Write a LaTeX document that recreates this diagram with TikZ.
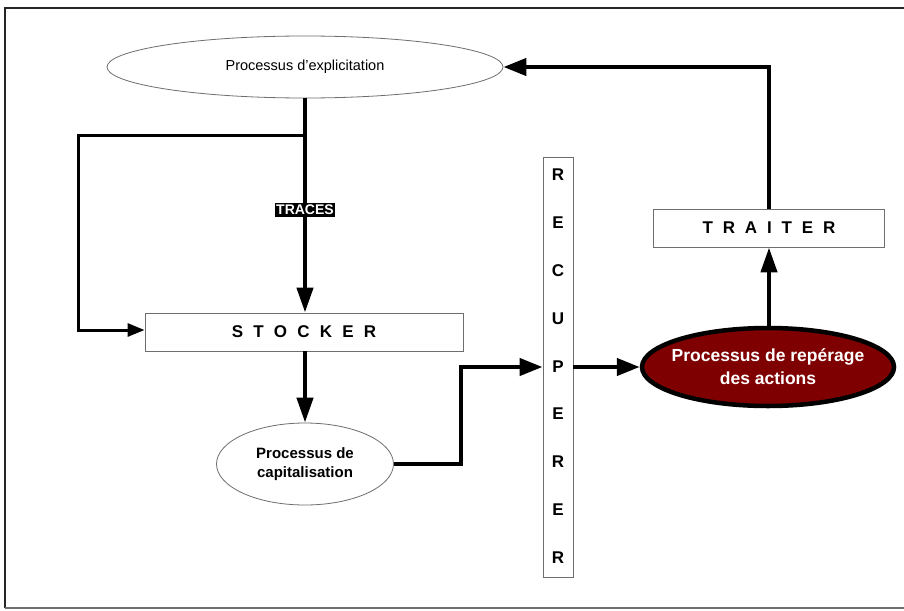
\documentclass[tikz,border=0pt]{standalone}
\usepackage{fontspec}
\setmainfont{Liberation Sans}
\usetikzlibrary{arrows.meta,shapes.geometric}
\definecolor{darkred}{HTML}{7F0000}
\definecolor{boxgray}{HTML}{6E6E6E}
\begin{document}
\begin{tikzpicture}[x=1pt,y=-1pt,
  ell/.style={draw=boxgray,line width=0.8pt,ellipse,inner sep=0pt,fill=white},
  rbox/.style={draw=boxgray,line width=0.9pt,rectangle,inner sep=0pt,fill=white},
  conn/.style={line width=4.3pt},
  thinconn/.style={line width=3pt},
  bigtip/.style={-{Triangle[length=25pt,width=16pt]}},
  midtip/.style={-{Triangle[length=23pt,width=17pt]}},
  smalltip/.style={-{Triangle[length=17pt,width=13pt]}},
  spaced/.style={font=\fontsize{17}{20}\selectfont\bfseries}
]
\useasboundingbox (0,0) rectangle (904,610);
\fill[white] (0,0) rectangle (904,610);
% frame
\draw[line width=1.5pt,black!85] (5,608) -- (5,8) -- (906,8);
\draw[line width=1.2pt,boxgray] (5,608) -- (906,608);

% nodes
\node[ell,minimum width=396pt,minimum height=62pt] (expl) at (305,67) {};
\node[font=\fontsize{14.5}{17}\selectfont] (explt) at (expl.center) {Processus d’explicitation};
\node[rbox,spaced,minimum width=318pt,minimum height=38pt] (stock) at (304,332) {S\hspace{0.6em}T\hspace{0.6em}O\hspace{0.6em}C\hspace{0.6em}K\hspace{0.6em}E\hspace{0.6em}R};
\node[ell,minimum width=177pt,minimum height=82pt] (capi) at (305,464) {};
\node[align=center,font=\fontsize{15}{19}\selectfont\bfseries] (capit) at (capi.center) {Processus de\\capitalisation};
\node[rbox,minimum width=30pt,minimum height=420pt] (recup) at (558,367) {};
\foreach \l [count=\i] in {R,E,C,U,P,E,R,E,R}{
  \node[font=\fontsize{17}{20}\selectfont\bfseries] (r\i) at (558,{175+47.8*(\i-1)}) {\l};
}
\node[ellipse,draw=black,line width=4.5pt,fill=darkred,minimum width=252pt,minimum height=78pt,inner sep=0pt] (rep) at (768,367) {};
\node[align=center,text=white,font=\fontsize{17.5}{23}\selectfont\bfseries] (rept) at (rep.center) {Processus de repérage\\des actions};
\node[rbox,spaced,minimum width=231pt,minimum height=38pt] (trait) at (769,228) {T\hspace{0.58em}R\hspace{0.58em}A\hspace{0.58em}I\hspace{0.58em}T\hspace{0.58em}E\hspace{0.58em}R};

% connectors
\coordinate (split) at (305,135);
\coordinate (lc) at (78,135);
\coordinate (lb) at (78,330);
\draw[thinconn,smalltip] (split) -- (lc) -- (lb) -- (stock.west |- lb);
\draw[conn,bigtip] (expl.south) -- (stock.north -| expl.south);
\node[fill=black,text=white,inner xsep=1.5pt,inner ysep=2.5pt,font=\fontsize{14}{16}\selectfont\bfseries] (traces) at (305,210) {TRACES};
\draw[conn,bigtip] (stock.south -| capi.north) -- (capi.north);
\coordinate (c1) at (461,464);
\coordinate (c2) at (461,367);
\draw[conn,midtip] (capi.east) -- (c1) -- (c2) -- (recup.west |- c2);
\draw[conn,midtip] (recup.east |- c2) -- (rep.west);
\draw[conn,bigtip] (rep.north -| trait.south) -- (trait.south);
\coordinate (t1) at (769,67);
\draw[conn,midtip] (trait.north) -- (t1) -- (expl.east);
\end{tikzpicture}
\end{document}
